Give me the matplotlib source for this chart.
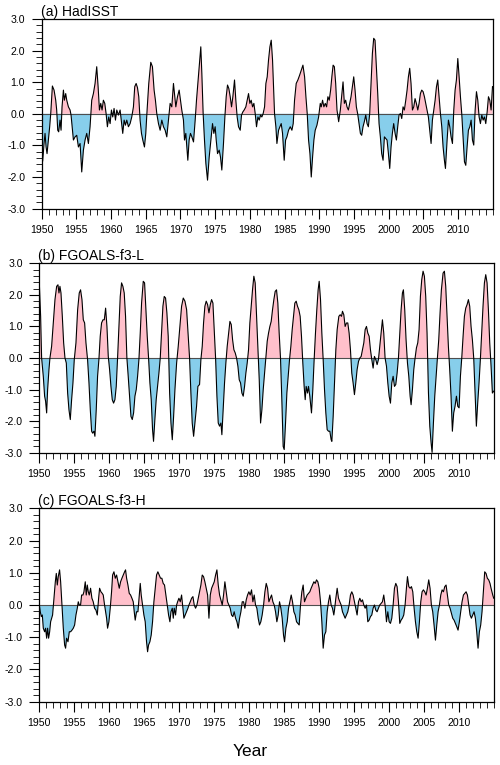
import numpy as np
import matplotlib
matplotlib.use("Agg")
import matplotlib.pyplot as plt
from matplotlib.ticker import MultipleLocator, FixedLocator

plt.rcParams['font.family'] = ['Liberation Sans', 'DejaVu Sans']

# ---------------- data (decimal year, anomaly) ----------------
had_t = [1950.00, 1950.14, 1950.34, 1950.48, 1950.63, 1950.77, 1950.96, 1951.15, 1951.30, 1951.54,
         1951.78, 1952.02, 1952.16, 1952.31, 1952.45, 1952.64, 1952.79, 1952.93, 1953.13, 1953.27,
         1953.46, 1953.61, 1953.85, 1954.09, 1954.23, 1954.57, 1954.81, 1955.05, 1955.29, 1955.53,
         1955.77, 1956.01, 1956.25, 1956.49, 1956.73, 1956.97, 1957.21, 1957.45, 1957.69, 1957.93,
         1958.13, 1958.32, 1958.51, 1958.70, 1958.89, 1959.09, 1959.28, 1959.47, 1959.66, 1959.86,
         1960.05, 1960.24, 1960.43, 1960.63, 1960.82, 1961.06, 1961.30, 1961.54, 1961.68, 1961.88,
         1962.07, 1962.26, 1962.50, 1962.74, 1962.98, 1963.22, 1963.41, 1963.61, 1963.80, 1963.99,
         1964.18, 1964.38, 1964.57, 1964.81, 1965.00, 1965.19, 1965.43, 1965.72, 1965.96, 1966.20,
         1966.39, 1966.59, 1966.83, 1967.07, 1967.31, 1967.55, 1967.79, 1968.03, 1968.27, 1968.51,
         1968.75, 1968.99, 1969.14, 1969.33, 1969.57, 1969.81, 1970.00, 1970.19, 1970.43, 1970.58,
         1970.77, 1970.92, 1971.06, 1971.25, 1971.44, 1971.64, 1971.88, 1972.12, 1972.31, 1972.50,
         1972.69, 1972.93, 1973.08, 1973.27, 1973.46, 1973.66, 1973.90, 1974.14, 1974.38, 1974.62,
         1974.81, 1975.00, 1975.15, 1975.34, 1975.58, 1975.77, 1975.96, 1976.20, 1976.40, 1976.59,
         1976.78, 1976.97, 1977.17, 1977.36, 1977.55, 1977.79, 1977.98, 1978.17, 1978.37, 1978.61,
         1978.80, 1978.99, 1979.18, 1979.42, 1979.62, 1979.81, 1980.00, 1980.19, 1980.39, 1980.58,
         1980.77, 1980.96, 1981.16, 1981.35, 1981.54, 1981.73, 1981.92, 1982.12, 1982.31, 1982.50,
         1982.69, 1982.89, 1983.08, 1983.27, 1983.42, 1983.56, 1983.75, 1983.90, 1984.14, 1984.33,
         1984.52, 1984.71, 1984.95, 1985.15, 1985.34, 1985.58, 1985.82, 1986.06, 1986.25, 1986.44,
         1986.68, 1986.92, 1987.17, 1987.41, 1987.65, 1987.89, 1988.08, 1988.27, 1988.46, 1988.66,
         1988.85, 1989.04, 1989.23, 1989.42, 1989.67, 1989.91, 1990.15, 1990.29, 1990.48, 1990.67,
         1990.87, 1991.06, 1991.25, 1991.44, 1991.64, 1991.83, 1992.00, 1992.18, 1992.37, 1992.56,
         1992.80, 1993.04, 1993.23, 1993.43, 1993.62, 1993.81, 1994.00, 1994.20, 1994.39, 1994.58,
         1994.77, 1994.97, 1995.16, 1995.35, 1995.54, 1995.73, 1995.93, 1996.12, 1996.31, 1996.50,
         1996.70, 1996.89, 1997.08, 1997.27, 1997.47, 1997.66, 1997.85, 1998.04, 1998.23, 1998.43,
         1998.62, 1998.81, 1999.00, 1999.20, 1999.39, 1999.58, 1999.77, 1999.97, 2000.16, 2000.35,
         2000.54, 2000.73, 2000.93, 2001.12, 2001.31, 2001.50, 2001.70, 2001.89, 2002.08, 2002.27,
         2002.47, 2002.66, 2002.85, 2003.04, 2003.23, 2003.43, 2003.62, 2003.81, 2004.00, 2004.20,
         2004.39, 2004.58, 2004.77, 2004.97, 2005.16, 2005.35, 2005.54, 2005.73, 2005.93, 2006.12,
         2006.31, 2006.50, 2006.70, 2006.89, 2007.08, 2007.27, 2007.47, 2007.66, 2007.85, 2008.04,
         2008.19, 2008.43, 2008.62, 2008.81, 2009.00, 2009.20, 2009.39, 2009.58, 2009.77, 2009.97,
         2010.16, 2010.35, 2010.54, 2010.73, 2010.93, 2011.12, 2011.31, 2011.50, 2011.70, 2011.89,
         2012.08, 2012.27, 2012.47, 2012.66, 2012.85, 2013.04, 2013.23, 2013.43, 2013.62, 2013.81,
         2014.00, 2014.20, 2014.39, 2014.58, 2014.77, 2014.97]
had_v = [-1.05, -1.50, -0.94, -0.62, -1.05, -1.26, -0.83, -0.41, 0.00, 0.88,
         0.75, 0.43, 0.12, -0.52, -0.57, -0.20, -0.52, 0.22, 0.75, 0.43,
         0.64, 0.43, 0.22, 0.12, -0.04, -0.83, -0.73, -0.68, -1.05, -0.94,
         -1.84, -1.15, -0.83, -0.62, -0.94, -0.41, 0.43, 0.64, 0.96, 1.49,
         0.86, 0.12, 0.33, 0.12, 0.43, 0.33, 0.01, -0.41, -0.10, -0.31,
         0.12, -0.10, 0.17, -0.20, 0.12, -0.04, 0.12, -0.36, -0.62, -0.20,
         -0.36, -0.20, -0.41, -0.31, -0.10, 0.22, 0.86, 0.96, 0.83, 0.54,
         -0.20, -0.62, -0.83, -1.05, -0.62, 0.12, 0.96, 1.63, 1.49, 0.75,
         0.43, 0.00, -0.31, -0.52, -0.20, -0.41, -0.52, -0.73, -0.20, 0.33,
         0.22, 0.96, 0.64, 0.22, 0.54, 0.75, 0.43, 0.12, -0.20, -0.83,
         -0.62, -1.05, -1.47, -0.83, -0.62, -0.73, -0.89, -0.20, 0.43, 0.96,
         1.49, 2.12, 1.28, 0.00, -0.83, -1.57, -2.10, -1.37, -0.83, -0.31,
         -0.62, -0.41, -0.83, -1.26, -1.15, -1.37, -1.78, -0.94, -0.10, 0.54,
         0.91, 0.80, 0.54, 0.22, 0.54, 1.07, 0.43, -0.10, -0.41, -0.52,
         -0.04, 0.06, 0.12, 0.22, 0.43, 0.64, 0.33, 0.43, 0.22, 0.33,
         0.01, -0.41, -0.10, -0.20, -0.04, -0.10, 0.01, 0.22, 0.96, 1.17,
         1.70, 2.12, 2.33, 1.70, 0.86, 0.00, -0.41, -0.94, -0.52, -0.41,
         -0.31, -0.62, -1.47, -0.83, -0.73, -0.52, -0.41, -0.52, -0.31, 0.43,
         0.96, 1.07, 1.22, 1.38, 1.54, 1.17, 0.54, 0.00, -0.83, -1.26,
         -2.00, -1.37, -0.83, -0.52, -0.36, -0.10, 0.33, 0.22, 0.43, 0.22,
         0.33, 0.22, 0.54, 0.43, 0.75, 1.20, 1.54, 1.49, 0.96, 0.12,
         -0.25, 0.12, 0.54, 1.01, 0.33, 0.43, 0.22, 0.12, 0.33, 0.54,
         0.85, 1.17, 0.75, 0.22, 0.00, -0.31, -0.62, -0.68, -0.41, -0.25,
         -0.04, -0.31, -0.41, 0.00, 0.96, 1.91, 2.39, 2.33, 1.49, 0.64,
         -0.31, -0.73, -1.26, -1.47, -0.73, -0.78, -0.83, -1.26, -1.73, -1.05,
         -0.62, -0.31, -0.62, -0.83, -0.41, -0.04, 0.01, -0.15, 0.22, 0.12,
         0.43, 0.75, 1.17, 1.44, 0.96, 0.12, 0.22, 0.48, 0.33, 0.12,
         0.33, 0.64, 0.75, 0.70, 0.54, 0.33, 0.12, -0.10, -0.52, -0.94,
         -0.20, 0.12, 0.43, 0.85, 1.07, 0.54, 0.00, -0.41, -1.05, -1.47,
         -1.73, -0.83, -0.20, -0.41, -0.73, -0.94, 0.12, 0.75, 1.07, 1.75,
         1.17, 0.54, 0.00, -0.73, -1.52, -1.63, -1.05, -0.52, -0.41, -0.20,
         -0.83, -0.99, 0.12, 0.70, 0.43, -0.10, -0.31, -0.04, -0.20, -0.10,
         -0.31, 0.06, 0.54, 0.43, 0.12, 0.86]

fl_t = [1950.00, 1950.19, 1950.33, 1950.57, 1950.76, 1950.90, 1951.05, 1951.19, 1951.38, 1951.52,
        1951.76, 1952.00, 1952.24, 1952.48, 1952.67, 1952.81, 1952.95, 1953.10, 1953.29, 1953.48,
        1953.67, 1953.86, 1954.05, 1954.24, 1954.43, 1954.62, 1954.81, 1955.00, 1955.24, 1955.48,
        1955.71, 1955.90, 1956.10, 1956.29, 1956.48, 1956.67, 1956.90, 1957.10, 1957.29, 1957.48,
        1957.62, 1957.81, 1957.95, 1958.14, 1958.33, 1958.52, 1958.71, 1958.90, 1959.10, 1959.29,
        1959.48, 1959.67, 1959.86, 1960.05, 1960.24, 1960.43, 1960.62, 1960.81, 1961.00, 1961.19,
        1961.38, 1961.57, 1961.76, 1961.95, 1962.14, 1962.33, 1962.52, 1962.71, 1962.90, 1963.10,
        1963.29, 1963.48, 1963.67, 1963.86, 1964.05, 1964.24, 1964.43, 1964.62, 1964.86, 1965.05,
        1965.24, 1965.43, 1965.62, 1965.81, 1966.00, 1966.19, 1966.33, 1966.52, 1966.71, 1966.90,
        1967.10, 1967.29, 1967.48, 1967.67, 1967.86, 1968.05, 1968.24, 1968.43, 1968.63, 1968.82,
        1969.01, 1969.20, 1969.39, 1969.63, 1969.86, 1970.10, 1970.34, 1970.58, 1970.82, 1971.06,
        1971.29, 1971.48, 1971.67, 1971.86, 1972.06, 1972.25, 1972.48, 1972.67, 1972.91, 1973.10,
        1973.29, 1973.48, 1973.67, 1973.86, 1974.06, 1974.25, 1974.44, 1974.63, 1974.82, 1975.01,
        1975.20, 1975.39, 1975.58, 1975.77, 1975.96, 1976.10, 1976.29, 1976.48, 1976.67, 1976.86,
        1977.06, 1977.25, 1977.44, 1977.63, 1977.82, 1978.01, 1978.20, 1978.39, 1978.58, 1978.77,
        1978.96, 1979.15, 1979.34, 1979.53, 1979.72, 1979.91, 1980.10, 1980.29, 1980.48, 1980.67,
        1980.86, 1981.06, 1981.25, 1981.44, 1981.63, 1981.82, 1982.01, 1982.20, 1982.39, 1982.58,
        1982.77, 1982.96, 1983.15, 1983.34, 1983.53, 1983.72, 1983.91, 1984.10, 1984.29, 1984.48,
        1984.67, 1984.86, 1985.01, 1985.20, 1985.39, 1985.58, 1985.77, 1985.96, 1986.15, 1986.34,
        1986.53, 1986.72, 1986.91, 1987.10, 1987.29, 1987.48, 1987.67, 1987.86, 1988.01, 1988.15,
        1988.34, 1988.48, 1988.67, 1988.91, 1989.10, 1989.29, 1989.48, 1989.67, 1989.86, 1990.01,
        1990.20, 1990.39, 1990.58, 1990.77, 1990.96, 1991.15, 1991.34, 1991.53, 1991.72, 1991.82,
        1992.01, 1992.20, 1992.39, 1992.58, 1992.82, 1993.01, 1993.20, 1993.34, 1993.53, 1993.72,
        1993.91, 1994.10, 1994.29, 1994.48, 1994.67, 1994.86, 1995.05, 1995.24, 1995.43, 1995.63,
        1995.82, 1996.01, 1996.20, 1996.39, 1996.58, 1996.77, 1996.96, 1997.15, 1997.34, 1997.53,
        1997.72, 1997.91, 1998.10, 1998.29, 1998.48, 1998.67, 1998.86, 1999.05, 1999.24, 1999.43,
        1999.63, 1999.82, 2000.01, 2000.20, 2000.39, 2000.58, 2000.77, 2000.96, 2001.15, 2001.34,
        2001.53, 2001.72, 2001.91, 2002.05, 2002.24, 2002.43, 2002.63, 2002.82, 2003.01, 2003.15,
        2003.34, 2003.53, 2003.72, 2003.91, 2004.10, 2004.29, 2004.48, 2004.67, 2004.86, 2005.05,
        2005.24, 2005.43, 2005.63, 2005.82, 2006.01, 2006.15, 2006.34, 2006.53, 2006.72, 2006.91,
        2007.10, 2007.29, 2007.48, 2007.72, 2007.91, 2008.10, 2008.29, 2008.48, 2008.67, 2008.86,
        2009.05, 2009.24, 2009.43, 2009.63, 2009.82, 2010.01, 2010.20, 2010.39, 2010.58, 2010.77,
        2010.96, 2011.15, 2011.34, 2011.53, 2011.72, 2011.91, 2012.10, 2012.29, 2012.48, 2012.67,
        2012.86, 2013.05, 2013.24, 2013.43, 2013.63, 2013.82, 2014.01, 2014.20, 2014.39, 2014.58,
        2014.77, 2014.96]
fl_v = [2.38, 1.32, 0.00, -0.58, -1.21, -1.37, -1.74, -1.00, -0.37, 0.00,
        0.37, 1.11, 1.85, 2.27, 2.32, 2.06, 2.27, 2.06, 1.32, 0.48,
        0.00, -0.16, -1.11, -1.64, -1.95, -1.32, -0.79, -0.05, 0.48, 1.53,
        2.06, 2.16, 1.85, 1.21, 1.11, 0.48, -0.05, -0.79, -1.64, -2.32,
        -2.38, -2.32, -2.48, -1.64, -0.58, -0.05, 0.69, 1.11, 1.21, 1.21,
        1.58, 1.00, 0.05, -0.37, -0.90, -1.32, -1.43, -1.32, -0.90, 0.00,
        1.00, 1.95, 2.38, 2.27, 2.06, 1.32, 0.00, -0.58, -1.21, -1.85,
        -1.95, -1.74, -1.21, -1.00, -0.58, -0.05, 0.79, 1.74, 2.43, 2.38,
        1.53, 0.69, 0.00, -0.79, -1.32, -2.27, -2.64, -1.95, -1.32, -0.90,
        -0.48, 0.00, 0.79, 1.64, 1.95, 1.90, 1.43, 0.69, -1.11, -2.06,
        -2.59, -1.85, -1.00, -0.16, 0.37, 1.00, 1.64, 1.90, 1.80, 1.53,
        0.69, 0.00, -1.11, -2.06, -2.48, -2.06, -1.53, -0.90, -0.84, -0.05,
        0.37, 1.11, 1.64, 1.80, 1.69, 1.43, 1.69, 1.85, 1.74, 0.90,
        0.00, -1.21, -2.06, -2.16, -2.06, -2.43, -1.64, -0.79, -0.16, 0.37,
        0.79, 1.16, 1.06, 0.58, 0.26, 0.16, 0.00, -0.26, -0.69, -0.79,
        -1.11, -1.21, -0.90, -0.48, -0.16, 0.26, 1.11, 1.64, 2.16, 2.59,
        2.38, 1.32, 0.26, -0.69, -2.06, -1.64, -1.00, -0.48, 0.05, 0.53,
        0.79, 1.00, 1.16, 1.53, 1.85, 2.11, 2.16, 1.74, 0.79, 0.00,
        -1.32, -2.80, -2.90, -2.06, -1.11, -0.58, -0.05, 0.37, 0.90, 1.32,
        1.74, 1.80, 1.64, 1.53, 1.32, 0.69, -0.16, -0.90, -1.32, -0.90,
        -1.11, -0.90, -1.21, -1.74, -1.00, -0.05, 0.79, 1.53, 2.16, 2.43,
        1.85, 0.79, -0.05, -1.00, -1.74, -2.27, -2.32, -2.32, -2.59, -2.64,
        -1.85, -0.79, 0.26, 0.90, 1.32, 1.37, 1.32, 1.48, 1.37, 1.00,
        1.11, 1.11, 0.79, 0.26, -0.48, -0.79, -1.16, -0.79, -0.37, -0.11,
        0.00, 0.05, 0.26, 0.48, 0.90, 1.00, 0.79, 0.69, 0.26, -0.05,
        -0.32, 0.05, -0.05, -0.21, -0.05, 0.37, 0.79, 1.21, 0.79, 0.00,
        -0.26, -0.79, -1.21, -1.43, -0.79, -0.58, -0.90, -0.84, -0.48, 0.00,
        0.79, 1.53, 2.06, 2.16, 1.53, 0.58, -0.16, -0.58, -1.21, -1.48,
        -1.00, -0.37, 0.00, 0.32, 0.48, 0.90, 1.95, 2.48, 2.75, 2.59,
        1.95, 0.79, -1.11, -2.16, -2.69, -2.99, -2.06, -1.21, -0.58, 0.00,
        0.58, 1.43, 2.16, 2.69, 2.75, 2.27, 1.32, 0.37, -0.37, -1.21,
        -2.32, -1.74, -1.53, -1.21, -1.53, -1.58, -0.58, 0.00, 0.69, 1.32,
        1.58, 1.69, 1.85, 1.64, 1.00, 0.58, 0.00, -1.11, -2.16, -1.43,
        -0.79, -0.05, 0.79, 1.64, 2.38, 2.64, 2.38, 1.53, 0.48, -0.26,
        -1.11, -1.05]

fh_t = [1950.00, 1950.14, 1950.29, 1950.43, 1950.57, 1950.76, 1950.90, 1951.05, 1951.19, 1951.33,
        1951.48, 1951.62, 1951.76, 1951.90, 1952.10, 1952.29, 1952.43, 1952.57, 1952.71, 1952.90,
        1953.05, 1953.24, 1953.43, 1953.62, 1953.76, 1953.90, 1954.10, 1954.29, 1954.48, 1954.67,
        1954.86, 1955.05, 1955.24, 1955.43, 1955.57, 1955.71, 1955.90, 1956.05, 1956.24, 1956.38,
        1956.57, 1956.71, 1956.86, 1957.00, 1957.14, 1957.33, 1957.52, 1957.71, 1957.90, 1958.10,
        1958.29, 1958.48, 1958.62, 1958.81, 1959.00, 1959.14, 1959.33, 1959.48, 1959.62, 1959.76,
        1959.95, 1960.14, 1960.33, 1960.48, 1960.67, 1960.86, 1961.05, 1961.24, 1961.43, 1961.62,
        1961.81, 1962.00, 1962.19, 1962.33, 1962.48, 1962.67, 1962.86, 1963.05, 1963.24, 1963.43,
        1963.57, 1963.71, 1963.90, 1964.10, 1964.29, 1964.43, 1964.57, 1964.76, 1964.95, 1965.14,
        1965.33, 1965.48, 1965.62, 1965.81, 1966.00, 1966.19, 1966.38, 1966.57, 1966.76, 1966.95,
        1967.14, 1967.33, 1967.52, 1967.71, 1967.90, 1968.10, 1968.29, 1968.48, 1968.67, 1968.82,
        1969.01, 1969.15, 1969.29, 1969.48, 1969.63, 1969.77, 1969.96, 1970.15, 1970.34, 1970.48,
        1970.67, 1970.86, 1971.06, 1971.25, 1971.39, 1971.58, 1971.77, 1971.96, 1972.15, 1972.34,
        1972.53, 1972.72, 1972.91, 1973.10, 1973.29, 1973.48, 1973.67, 1973.86, 1974.06, 1974.25,
        1974.44, 1974.63, 1974.82, 1975.01, 1975.20, 1975.39, 1975.58, 1975.77, 1975.96, 1976.15,
        1976.34, 1976.53, 1976.72, 1976.91, 1977.10, 1977.29, 1977.48, 1977.67, 1977.86, 1978.06,
        1978.25, 1978.44, 1978.63, 1978.82, 1979.01, 1979.20, 1979.39, 1979.58, 1979.77, 1979.96,
        1980.15, 1980.34, 1980.53, 1980.72, 1980.91, 1981.10, 1981.29, 1981.48, 1981.67, 1981.86,
        1982.06, 1982.25, 1982.44, 1982.63, 1982.82, 1983.01, 1983.20, 1983.39, 1983.58, 1983.77,
        1983.96, 1984.15, 1984.34, 1984.53, 1984.72, 1984.91, 1985.06, 1985.25, 1985.44, 1985.63,
        1985.82, 1986.01, 1986.20, 1986.39, 1986.58, 1986.77, 1986.96, 1987.15, 1987.34, 1987.53,
        1987.72, 1987.91, 1988.10, 1988.29, 1988.48, 1988.67, 1988.86, 1989.06, 1989.25, 1989.44,
        1989.63, 1989.82, 1990.01, 1990.20, 1990.39, 1990.58, 1990.77, 1990.96, 1991.15, 1991.34,
        1991.53, 1991.72, 1991.91, 1992.10, 1992.20, 1992.39, 1992.58, 1992.77, 1992.96, 1993.15,
        1993.34, 1993.53, 1993.72, 1993.91, 1994.10, 1994.29, 1994.48, 1994.67, 1994.86, 1995.05,
        1995.24, 1995.43, 1995.63, 1995.82, 1996.01, 1996.20, 1996.39, 1996.58, 1996.77, 1996.96,
        1997.15, 1997.34, 1997.53, 1997.72, 1997.91, 1998.10, 1998.29, 1998.48, 1998.67, 1998.86,
        1999.05, 1999.24, 1999.43, 1999.63, 1999.82, 2000.01, 2000.20, 2000.39, 2000.58, 2000.77,
        2000.96, 2001.15, 2001.34, 2001.53, 2001.72, 2001.91, 2002.10, 2002.29, 2002.48, 2002.63,
        2002.82, 2003.01, 2003.20, 2003.39, 2003.58, 2003.77, 2003.96, 2004.15, 2004.34, 2004.53,
        2004.72, 2004.91, 2005.10, 2005.29, 2005.48, 2005.67, 2005.86, 2006.05, 2006.24, 2006.43,
        2006.63, 2006.82, 2007.01, 2007.20, 2007.39, 2007.58, 2007.77, 2007.96, 2008.15, 2008.34,
        2008.53, 2008.72, 2008.91, 2009.10, 2009.29, 2009.48, 2009.67, 2009.86, 2010.05, 2010.24,
        2010.43, 2010.63, 2010.82, 2011.01, 2011.20, 2011.39, 2011.58, 2011.77, 2011.96, 2012.15,
        2012.34, 2012.53, 2012.72, 2012.91, 2013.10, 2013.29, 2013.48, 2013.67, 2013.86, 2014.05,
        2014.24, 2014.43, 2014.58, 2014.82, 2014.96]
fh_v = [0.00, -0.21, -0.36, -0.31, -0.72, -0.83, -0.72, -1.03, -0.72, -1.03,
        -0.83, -0.52, -0.41, -0.31, 0.21, 0.72, 0.98, 0.62, 0.88, 1.09,
        0.72, 0.00, -0.72, -1.24, -1.34, -1.03, -1.14, -0.83, -0.83, -0.78,
        -0.72, -0.62, -0.31, -0.10, 0.10, 0.00, 0.00, 0.31, 0.31, 0.41,
        0.72, 0.31, 0.62, 0.41, 0.31, 0.52, 0.21, 0.10, -0.10, -0.16,
        -0.31, 0.21, 0.52, 0.41, 0.36, 0.31, 0.00, -0.21, -0.41, -0.72,
        -0.52, -0.10, 0.41, 0.93, 1.03, 0.83, 0.93, 0.72, 0.52, 0.72,
        0.83, 0.93, 1.03, 1.09, 0.83, 0.62, 0.36, 0.31, 0.21, 0.10,
        -0.21, -0.47, -0.21, -0.21, 0.31, 0.67, 0.31, 0.00, -0.31, -0.52,
        -1.14, -1.45, -1.24, -1.14, -0.93, -0.52, 0.10, 0.52, 0.93, 1.03,
        0.93, 0.83, 0.83, 0.67, 0.62, 0.31, 0.00, -0.31, -0.52, -0.21,
        -0.10, -0.41, -0.10, -0.31, 0.00, 0.10, 0.21, 0.10, 0.31, 0.00,
        -0.41, -0.31, -0.21, -0.10, 0.00, 0.10, 0.21, 0.26, 0.00, -0.10,
        0.00, 0.21, 0.41, 0.62, 0.93, 0.88, 0.72, 0.52, 0.31, -0.41,
        0.31, 0.52, 0.62, 0.72, 0.93, 1.09, 0.62, 0.31, 0.16, 0.00,
        0.31, 0.72, 0.41, 0.10, 0.00, -0.10, -0.31, -0.36, -0.21, -0.41,
        -0.52, -0.72, -0.41, -0.21, 0.10, 0.10, -0.10, 0.16, 0.31, 0.41,
        0.31, 0.47, 0.10, 0.31, 0.00, -0.10, -0.41, -0.62, -0.52, -0.31,
        0.00, 0.41, 0.67, 0.52, 0.10, 0.21, 0.31, 0.10, 0.00, -0.21,
        -0.52, -0.31, 0.10, -0.10, -0.41, -0.93, -1.14, -0.72, -0.52, -0.10,
        0.10, 0.31, 0.10, -0.21, -0.31, -0.52, -0.57, -0.62, 0.00, 0.41,
        0.62, 0.10, 0.21, 0.31, 0.36, 0.41, 0.52, 0.62, 0.72, 0.67,
        0.78, 0.72, 0.52, 0.10, -0.52, -1.34, -0.93, -0.83, -0.21, 0.10,
        0.31, 0.00, -0.10, -0.31, -0.16, 0.21, 0.52, 0.21, 0.10, 0.00,
        -0.21, -0.31, -0.41, -0.31, -0.21, 0.00, 0.31, 0.41, 0.31, 0.10,
        -0.10, -0.31, 0.10, 0.21, 0.10, 0.16, 0.00, -0.10, 0.00, -0.52,
        -0.47, -0.36, -0.31, -0.10, 0.00, -0.16, -0.21, -0.10, 0.00, 0.05,
        0.10, 0.31, 0.00, -0.52, -0.21, -0.52, -0.57, -0.41, 0.00, 0.52,
        0.67, 0.57, 0.10, -0.57, -0.47, -0.41, -0.31, 0.00, 0.52, 0.88,
        0.57, 0.52, 0.57, 0.41, -0.10, -0.52, -0.83, -1.03, -0.52, 0.10,
        0.41, 0.47, 0.41, 0.31, 0.52, 0.78, 0.52, 0.00, -0.21, -0.62,
        -1.09, -0.62, -0.21, 0.00, 0.31, 0.47, 0.41, 0.57, 0.62, 0.31,
        0.00, -0.10, -0.26, -0.41, -0.47, -0.57, -0.67, -0.78, -0.52, -0.21,
        0.10, 0.31, 0.36, 0.41, 0.31, 0.00, -0.31, -0.41, -0.31, -0.21,
        -0.41, -0.83, -1.34, -0.83, -0.62, -0.21, 0.41, 1.03, 0.98, 0.83,
        0.78, 0.67, 0.52, 0.31, 0.21]

titles = ["(a) HadISST", "(b) FGOALS-f3-L", "(c) FGOALS-f3-H"]
series = [(had_t, had_v), (fl_t, fl_v), (fh_t, fh_v)]
yticks = [-3, -2, -1, 0, 1, 2, 3]
xticks = [1950, 1955, 1960, 1965, 1970, 1975, 1980, 1985, 1990, 1995, 2000, 2005, 2010]

# ---------------- layout (pixels, top-origin) ----------------
W, H = 500, 765
boxes = [(41.7, 492.7, 19.0, 208.6),
         (39.3, 494.0, 263.3, 452.7),
         (39.3, 494.0, 508.3, 701.7)]

fig = plt.figure(figsize=(W / 100, H / 100), dpi=100)

pink = '#FFC0CB'
blue = '#87CEEB'

for (l, r, t, b), (tt, vv), title in zip(boxes, series, titles):
    ax = fig.add_axes([l / W, 1 - b / H, (r - l) / W, (b - t) / H])
    x = np.array(tt)
    y = np.array(vv)
    ax.fill_between(x, y, 0, where=y >= 0, interpolate=True, color=pink, lw=0)
    ax.fill_between(x, y, 0, where=y <= 0, interpolate=True, color=blue, lw=0)
    ax.axhline(0, color='#4d4d4d', lw=0.8)
    ax.plot(x, y, color='black', lw=0.8)
    ax.set_xlim(1950, 2015)
    ax.set_ylim(-3, 3)
    ax.yaxis.set_major_locator(FixedLocator(yticks))
    ax.yaxis.set_minor_locator(MultipleLocator(0.2))
    ax.xaxis.set_major_locator(FixedLocator(xticks))
    ax.xaxis.set_minor_locator(MultipleLocator(1))
    ax.set_yticklabels([f"{v:.1f}" for v in yticks])
    ax.set_xticklabels([str(v) for v in xticks])
    ax.tick_params(which='major', direction='out', length=7.5, width=0.8,
                   labelsize=7.6, pad=4.5, top=False, right=False)
    ax.tick_params(which='minor', direction='out', length=4.3, width=0.6,
                   top=False, right=False)
    for s in ax.spines.values():
        s.set_linewidth(0.9)
    fig.text((l - 1) / W, 1 - (t - 3) / H, title, fontsize=10, ha='left', va='baseline')

fig.text(250 / W, 1 - 752 / H, "Year", fontsize=12.5, ha='center', va='center')

fig.savefig("out.png", dpi=100)
